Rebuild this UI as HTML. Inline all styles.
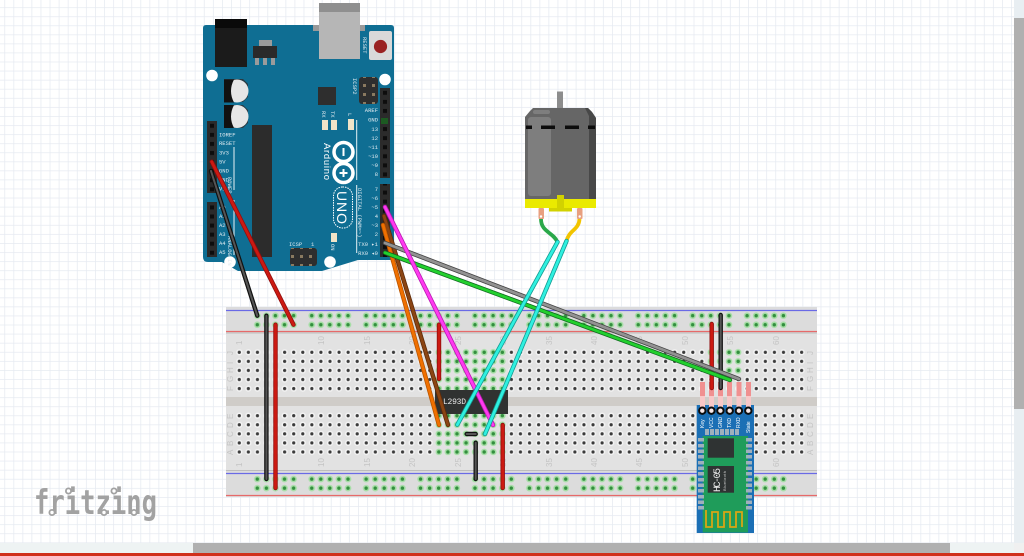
<!DOCTYPE html>
<html><head><meta charset="utf-8"><style>
html,body{margin:0;padding:0;background:#fff;overflow:hidden}
svg{display:block}
.m{font-family:"Liberation Mono",monospace;fill:#dfeaf0;font-size:5.5px}
.b{font-family:"Liberation Sans",sans-serif;fill:#c4c4c4;font-size:8px}
</style></head><body>
<svg width="1024" height="556" viewBox="0 0 1024 556" xmlns="http://www.w3.org/2000/svg">
<defs>
<pattern id="grid" x="4.3" y="7.2" width="9.07" height="9.07" patternUnits="userSpaceOnUse">
<rect width="9.07" height="9.07" fill="#fff"/>
<path d="M0 0H9.07M0 0V9.07" stroke="#e6eaf1" stroke-width="1.5" fill="none"/>
</pattern>
<pattern id="holes" x="234.8" y="347.8" width="9.07" height="9.07" patternUnits="userSpaceOnUse">
<circle cx="4.5" cy="4.5" r="3.1" fill="#f4f4f4"/><circle cx="4.5" cy="4.5" r="1.6" fill="#3a3a3a"/>
</pattern>
<pattern id="holes2" x="234.8" y="411.2" width="9.07" height="9.07" patternUnits="userSpaceOnUse">
<circle cx="4.5" cy="4.5" r="3.1" fill="#f4f4f4"/><circle cx="4.5" cy="4.5" r="1.6" fill="#3a3a3a"/>
</pattern>
<pattern id="gh" x="234.8" y="347.8" width="9.07" height="9.07" patternUnits="userSpaceOnUse">
<circle cx="4.5" cy="4.5" r="3.3" fill="#a6dea6"/><circle cx="4.5" cy="4.5" r="1.7" fill="#338f3e"/>
</pattern>
<pattern id="gh2" x="234.8" y="411.2" width="9.07" height="9.07" patternUnits="userSpaceOnUse">
<circle cx="4.5" cy="4.5" r="3.3" fill="#a6dea6"/><circle cx="4.5" cy="4.5" r="1.7" fill="#338f3e"/>
</pattern>
<pattern id="rail" x="252.8" y="311.2" width="54.42" height="9.07" patternUnits="userSpaceOnUse">
<g fill="#a6dea6"><circle cx="4.5" cy="4.5" r="3.3"/><circle cx="13.6" cy="4.5" r="3.3"/><circle cx="22.6" cy="4.5" r="3.3"/><circle cx="31.7" cy="4.5" r="3.3"/><circle cx="40.8" cy="4.5" r="3.3"/></g>
<g fill="#338f3e"><circle cx="4.5" cy="4.5" r="1.7"/><circle cx="13.6" cy="4.5" r="1.7"/><circle cx="22.6" cy="4.5" r="1.7"/><circle cx="31.7" cy="4.5" r="1.7"/><circle cx="40.8" cy="4.5" r="1.7"/></g>
</pattern>
<pattern id="rail2" x="252.8" y="474.6" width="54.42" height="9.07" patternUnits="userSpaceOnUse">
<g fill="#a6dea6"><circle cx="4.5" cy="4.5" r="3.3"/><circle cx="13.6" cy="4.5" r="3.3"/><circle cx="22.6" cy="4.5" r="3.3"/><circle cx="31.7" cy="4.5" r="3.3"/><circle cx="40.8" cy="4.5" r="3.3"/></g>
<g fill="#338f3e"><circle cx="4.5" cy="4.5" r="1.7"/><circle cx="13.6" cy="4.5" r="1.7"/><circle cx="22.6" cy="4.5" r="1.7"/><circle cx="31.7" cy="4.5" r="1.7"/><circle cx="40.8" cy="4.5" r="1.7"/></g>
</pattern>
<pattern id="hdr" x="207" y="121" width="10" height="9.07" patternUnits="userSpaceOnUse"><rect width="10" height="9.07" fill="#2b2b2b"/><rect x="3" y="2.8" width="4" height="4" fill="#0d0d0d"/></pattern>
<pattern id="hdr2" x="380" y="88" width="10" height="9.07" patternUnits="userSpaceOnUse"><rect width="10" height="9.07" fill="#2b2b2b"/><rect x="3" y="2.8" width="4" height="4" fill="#0d0d0d"/></pattern>
<pattern id="isp" x="0" y="0" width="9" height="9" patternUnits="userSpaceOnUse"><rect x="3" y="3" width="3" height="3" fill="#8a7a60"/></pattern>
</defs>
<rect width="1014" height="543" fill="url(#grid)"/>

<!-- breadboard -->
<rect x="226" y="307" width="591" height="190" fill="#dcdcdc"/>
<rect x="226" y="333" width="591" height="138" fill="#e2e2e2"/>
<rect x="226" y="397" width="591" height="9" fill="#cfccc8"/>
<path d="M226 333H817M226 470.5H817" stroke="#bdbdbd" stroke-width="1"/>
<path d="M226 310.5H817M226 473.5H817" stroke="#6a6ae6" stroke-width="1.2"/>
<path d="M226 331.5H817M226 495.5H817" stroke="#e66a6a" stroke-width="1.2"/>
<rect x="234.8" y="347.8" width="571.4" height="45.35" fill="url(#holes)"/>
<rect x="234.8" y="411.2" width="571.4" height="45.35" fill="url(#holes2)"/>
<rect x="252.8" y="311.2" width="535" height="18.14" fill="url(#rail)"/>
<rect x="252.8" y="474.6" width="535" height="18.14" fill="url(#rail2)"/>
<rect x="434.5" y="347.8" width="72.6" height="45.35" fill="url(#gh)"/>
<rect x="434.5" y="411.2" width="72.6" height="45.35" fill="url(#gh2)"/>
<rect x="707" y="347.8" width="36.3" height="27.2" fill="url(#gh)"/>
<g class="b">
<text transform="translate(242,345) rotate(-90)">1</text><text transform="translate(324,345) rotate(-90)">10</text><text transform="translate(370,345) rotate(-90)">15</text><text transform="translate(415,345) rotate(-90)">20</text><text transform="translate(461,345) rotate(-90)">25</text><text transform="translate(506,345) rotate(-90)">30</text><text transform="translate(552,345) rotate(-90)">35</text><text transform="translate(597,345) rotate(-90)">40</text><text transform="translate(642,345) rotate(-90)">45</text><text transform="translate(688,345) rotate(-90)">50</text><text transform="translate(733,345) rotate(-90)">55</text><text transform="translate(779,345) rotate(-90)">60</text>
<text transform="translate(242,467) rotate(-90)">1</text><text transform="translate(324,467) rotate(-90)">10</text><text transform="translate(370,467) rotate(-90)">15</text><text transform="translate(415,467) rotate(-90)">20</text><text transform="translate(461,467) rotate(-90)">25</text><text transform="translate(506,467) rotate(-90)">30</text><text transform="translate(552,467) rotate(-90)">35</text><text transform="translate(597,467) rotate(-90)">40</text><text transform="translate(642,467) rotate(-90)">45</text><text transform="translate(688,467) rotate(-90)">50</text><text transform="translate(779,467) rotate(-90)">60</text>
<text transform="translate(233,355) rotate(-90)">J</text><text transform="translate(233,364) rotate(-90)">I</text><text transform="translate(233,373) rotate(-90)">H</text><text transform="translate(233,382) rotate(-90)">G</text><text transform="translate(233,391) rotate(-90)">F</text>
<text transform="translate(233,419) rotate(-90)">E</text><text transform="translate(233,428) rotate(-90)">D</text><text transform="translate(233,437) rotate(-90)">C</text><text transform="translate(233,446) rotate(-90)">B</text><text transform="translate(233,455) rotate(-90)">A</text>
<text transform="translate(813,355) rotate(-90)">J</text><text transform="translate(813,364) rotate(-90)">I</text><text transform="translate(813,373) rotate(-90)">H</text><text transform="translate(813,382) rotate(-90)">G</text><text transform="translate(813,391) rotate(-90)">F</text>
<text transform="translate(813,419) rotate(-90)">E</text><text transform="translate(813,428) rotate(-90)">D</text><text transform="translate(813,437) rotate(-90)">C</text><text transform="translate(813,446) rotate(-90)">B</text><text transform="translate(813,455) rotate(-90)">A</text>
</g>

<!-- L293D -->
<rect x="435" y="390" width="73" height="24" fill="#303231"/>
<text x="443" y="404" font-family="'Liberation Mono',monospace" font-size="8" fill="#e8e8e8" textLength="23">L293D</text>

<!-- Arduino -->
<path d="M206 25H391Q394 25 394 28V256Q394 260 390 260H358L322 271H238L222 262H208Q203 262 203 257V28Q203 25 206 25Z" fill="#0f6e93"/>
<rect x="313" y="25" width="52" height="6" fill="#9a9a9a"/>
<rect x="319" y="3" width="41" height="56" fill="#b6b6b6"/><rect x="319" y="3" width="41" height="9" fill="#8f8f8f"/>
<rect x="215" y="19" width="32" height="48" fill="#1b1b1b"/><rect x="215" y="19" width="32" height="9" fill="#0a0a0a"/>
<rect x="259" y="40" width="13" height="7" fill="#9b9b9b"/>
<rect x="255" y="57" width="4" height="8" fill="#9b9b9b"/><rect x="263" y="57" width="4" height="8" fill="#9b9b9b"/><rect x="271" y="57" width="4" height="8" fill="#9b9b9b"/>
<rect x="253" y="46" width="24" height="12" fill="#2a2a2a"/>
<rect x="369" y="31" width="23" height="29" rx="2" fill="#d9d9d9"/>
<circle cx="380.5" cy="46.5" r="6.6" fill="#9a2222"/>
<text class="m" transform="translate(363,37) rotate(90)">RESET</text>
<circle cx="212" cy="75.5" r="5.8" fill="#fff"/><circle cx="385" cy="79.5" r="5.8" fill="#fff"/>
<circle cx="230" cy="262" r="5.8" fill="#fff"/><circle cx="330" cy="262" r="5.8" fill="#fff"/>
<path d="M224 79H243L248 84V97L243 102H224Z" fill="#2a3a42"/><circle cx="237" cy="91" r="11.5" fill="#e6e6e6"/><path d="M234 79.5Q228 91 234 102.5H224V79.5Z" fill="#111"/>
<path d="M224 105H243L248 110V123L243 128H224Z" fill="#2a3a42"/><circle cx="237" cy="116.5" r="11.5" fill="#e6e6e6"/><path d="M234 105Q228 116.5 234 128H224V105Z" fill="#111"/>
<rect x="318" y="87" width="18" height="18" fill="#2e2e2e"/>
<rect x="252" y="125" width="20" height="132" fill="#2c2c2c"/>
<rect x="207" y="121" width="10" height="72" fill="url(#hdr)"/>
<rect x="207" y="202" width="10" height="55" fill="url(#hdr)"/>
<rect x="380" y="88" width="10" height="90" fill="url(#hdr2)"/>
<rect x="380" y="184" width="10" height="73" fill="url(#hdr2)"/>
<rect x="359" y="77" width="19" height="27" rx="3" fill="#2e2e2e"/><rect x="359" y="77" width="18" height="27" fill="url(#isp)"/>
<rect x="290" y="248" width="27" height="18" rx="3" fill="#2e2e2e"/><rect x="290" y="248" width="27" height="18" fill="url(#isp)"/>
<rect x="322" y="120" width="6" height="10" fill="#f0e4c8"/><rect x="331" y="120" width="6" height="10" fill="#f0e4c8"/><rect x="348" y="119" width="6" height="11" fill="#f0e4c8"/><rect x="331" y="233" width="6" height="9" fill="#f0e4c8"/>
<path d="M356.7 120V180M356.7 185V253M234 147V190M234 200V255" stroke="#e8f2f6" stroke-width="1" fill="none"/>
<g class="m">
<text x="219" y="136.5">IOREF</text><text x="219" y="145">RESET</text><text x="219" y="154.5">3V3</text><text x="219" y="163.5">5V</text><text x="219" y="172.5">GND</text><text x="219" y="181.5">GND</text><text x="219" y="190.5">VIN</text>
<text x="219" y="209">A0</text><text x="219" y="218">A1</text><text x="219" y="227">A2</text><text x="219" y="236">A3</text><text x="219" y="245">A4</text><text x="219" y="254">A5</text>
<g text-anchor="end"><text x="378" y="112">AREF</text><text x="378" y="121.5">GND</text><text x="378" y="131">13</text><text x="378" y="140">12</text><text x="378" y="149">~11</text><text x="378" y="158">~10</text><text x="378" y="167">~9</text><text x="378" y="176">8</text>
<text x="378" y="191">7</text><text x="378" y="200">~6</text><text x="378" y="209">~5</text><text x="378" y="218">4</text><text x="378" y="227">~3</text><text x="378" y="236">2</text><text x="378" y="246">TX0 ▸1</text><text x="378" y="255">RX0 ◂0</text></g>
<text transform="translate(228,177) rotate(90)">POWER</text><text transform="translate(228,236) rotate(90)">ANALOG IN</text>
<text transform="translate(358,188) rotate(90)">DIGITAL (PWM=~)</text>
<text transform="translate(353,78) rotate(90)">ICSP2</text><text x="289" y="246">ICSP</text><text x="311" y="246">1</text>
<text transform="translate(322,111) rotate(90)">RX</text><text transform="translate(331,111) rotate(90)">TX</text><text transform="translate(348,113) rotate(90)">L</text><text transform="translate(331,244) rotate(90)">ON</text>
</g>
<g fill="none" stroke="#fff" stroke-width="3.5"><circle cx="343.5" cy="152" r="9.5"/><circle cx="343.5" cy="173" r="9.5"/></g>
<path d="M343.5 148V156M343.5 169V177M339.5 173H347.5" stroke="#fff" stroke-width="2"/>
<text transform="translate(324,143) rotate(90)" font-family="'Liberation Sans',sans-serif" font-size="9.5" fill="#fff" textLength="37">Arduino</text>
<rect x="333.5" y="187" width="19" height="41" rx="9" fill="none" stroke="#fff" stroke-width="1" stroke-dasharray="1.5 1"/>
<text transform="translate(337,191) rotate(90)" font-family="'Liberation Sans',sans-serif" font-size="14" fill="#fff" textLength="33">UNO</text>
<rect x="381" y="118" width="7" height="6" fill="#1c5a22"/>

<!-- motor -->
<rect x="557" y="91.5" width="6" height="17" fill="#8d8d8d"/>
<path d="M533 108H588L592 112L596 118V199H525V117L530 111Z" fill="#666"/>
<path d="M585 108H588L592 112L596 118V199H589V116Z" fill="#484848"/>
<rect x="528" y="117" width="23" height="79" rx="3" fill="#7e7e7e"/>
<rect x="533" y="110" width="17" height="4" rx="2" fill="#7e7e7e"/>
<path d="M526 127.3H532M541 127.3H555M565 127.3H579M588 127.3H595" stroke="#0c0c0c" stroke-width="3.5"/>
<rect x="525" y="199" width="71" height="9" fill="#eaea00"/>
<rect x="549" y="208" width="23" height="3.5" fill="#d2d200"/>
<rect x="557" y="195" width="7" height="13" fill="#d2d200"/>
<rect x="538.5" y="208" width="5.5" height="11" rx="1" fill="#e8a080"/><circle cx="541" cy="216.5" r="1.2" fill="#fff"/>
<rect x="577" y="208" width="5.5" height="11" rx="1" fill="#e8a080"/><circle cx="579.7" cy="216.5" r="1.2" fill="#fff"/>
<path d="M541 219C541 232 553 232 557.5 242" fill="none" stroke="#2aa84a" stroke-width="3.8"/>
<path d="M579.5 219C579 230 569 230 566.5 241" fill="none" stroke="#f2c400" stroke-width="3.8"/>

<!-- HC-05 -->
<rect x="696.7" y="405" width="57.3" height="128" fill="#1b6fb5"/>
<rect x="702.7" y="436" width="45.3" height="96.5" fill="#1f9c5a"/>
<g fill="#9fb0bc">
<rect x="705" y="429" width="4" height="6"/><rect x="710" y="429" width="4" height="6"/><rect x="715" y="429" width="4" height="6"/><rect x="720" y="429" width="4" height="6"/><rect x="725" y="429" width="4" height="6"/><rect x="730" y="429" width="4" height="6"/><rect x="735" y="429" width="4" height="6"/>
<rect x="698" y="438" width="6" height="3.5"/><rect x="698" y="444" width="6" height="3.5"/><rect x="698" y="449.5" width="6" height="3.5"/><rect x="698" y="455" width="6" height="3.5"/><rect x="698" y="461" width="6" height="3.5"/><rect x="698" y="466.5" width="6" height="3.5"/><rect x="698" y="472" width="6" height="3.5"/><rect x="698" y="478" width="6" height="3.5"/><rect x="698" y="483.5" width="6" height="3.5"/><rect x="698" y="489" width="6" height="3.5"/><rect x="698" y="495" width="6" height="3.5"/><rect x="698" y="500.5" width="6" height="3.5"/><rect x="698" y="506" width="6" height="3.5"/>
<rect x="746" y="438" width="6" height="3.5"/><rect x="746" y="444" width="6" height="3.5"/><rect x="746" y="449.5" width="6" height="3.5"/><rect x="746" y="455" width="6" height="3.5"/><rect x="746" y="461" width="6" height="3.5"/><rect x="746" y="466.5" width="6" height="3.5"/><rect x="746" y="472" width="6" height="3.5"/><rect x="746" y="478" width="6" height="3.5"/><rect x="746" y="483.5" width="6" height="3.5"/><rect x="746" y="489" width="6" height="3.5"/><rect x="746" y="495" width="6" height="3.5"/><rect x="746" y="500.5" width="6" height="3.5"/><rect x="746" y="506" width="6" height="3.5"/>
</g>
<rect x="707.7" y="438.3" width="26.3" height="19.4" fill="#2f3333"/>
<rect x="707.7" y="466" width="26.3" height="26.7" fill="#2f3333"/>
<text transform="translate(720,492) rotate(-90)" font-family="'Liberation Mono',monospace" font-size="10" fill="#e8e8e8" textLength="24">HC-05</text>
<text transform="translate(726,491) rotate(-90)" font-family="'Liberation Sans',sans-serif" font-size="4" fill="#ccc" textLength="20">Bluetooth</text>
<path d="M706 510V527H712V512H718V527H724V512H730V527H736V512H742V527" fill="none" stroke="#d9a514" stroke-width="1.8"/>
<g fill="#f8c8c8"><rect x="700" y="396" width="5" height="14"/><rect x="709" y="396" width="5" height="14"/><rect x="718" y="396" width="5" height="14"/><rect x="727" y="396" width="5" height="14"/><rect x="736.5" y="396" width="5" height="14"/><rect x="746" y="396" width="5" height="14"/></g>
<g fill="#f09090"><rect x="700" y="382" width="5" height="14"/><rect x="709" y="382" width="5" height="14"/><rect x="718" y="382" width="5" height="14"/><rect x="727" y="382" width="5" height="14"/><rect x="736.5" y="382" width="5" height="14"/><rect x="746" y="382" width="5" height="14"/></g>
<g fill="#f8e8e8" stroke="#0c0c0c" stroke-width="2"><circle cx="702.3" cy="410.7" r="3.2"/><circle cx="711.4" cy="410.7" r="3.2"/><circle cx="720.4" cy="410.7" r="3.2"/><circle cx="729.7" cy="410.7" r="3.2"/><circle cx="738.9" cy="410.7" r="3.2"/><circle cx="748.3" cy="410.7" r="3.2"/></g>
<g font-family="'Liberation Sans',sans-serif" font-size="5" fill="#fff">
<text transform="translate(704,428) rotate(-90)">Key</text><text transform="translate(713,428) rotate(-90)">VCC</text><text transform="translate(722,428) rotate(-90)">GND</text><text transform="translate(731,428) rotate(-90)">TXD</text><text transform="translate(740,428) rotate(-90)">RXD</text><text transform="translate(750,433) rotate(-90)">State</text>
</g>

<!-- wires -->
<g fill="none" stroke-linecap="round">
<g stroke="#8f0d0d" stroke-width="4.4"><path d="M439 324.7V379M502.7 425V488M711.7 324V388M211.7 161.7L293.5 324.7M275.5 324.7V488"/></g>
<g stroke="#cc1a12" stroke-width="2.8"><path d="M439 324.7V379M502.7 425V488M711.7 324V388M211.7 161.7L293.5 324.7M275.5 324.7V488"/></g>
<g stroke="#111" stroke-width="4.4"><path d="M211 171L257.3 315.7M266.4 315.7V479M475.7 442.7V479M466.7 434H475.7M720.7 315V388"/></g>
<g stroke="#555" stroke-width="2"><path d="M211 171L257.3 315.7M266.4 315.7V479M475.7 442.7V479M466.7 434H475.7M720.7 315V388"/></g>
<path d="M384 216L448 425" stroke="#5e2a08" stroke-width="4.4"/><path d="M384 216L448 425" stroke="#8b4513" stroke-width="2.8"/>
<path d="M383 225L439 425" stroke="#b85400" stroke-width="4.4"/><path d="M383 225L439 425" stroke="#f07000" stroke-width="2.8"/>
<path d="M385 243L739 379" stroke="#444" stroke-width="4.4"/><path d="M385 243L739 379" stroke="#929292" stroke-width="2.8"/>
<path d="M385 252.7L730 380" stroke="#116a20" stroke-width="4.4"/><path d="M385 252.7L730 380" stroke="#22d02e" stroke-width="2.8"/>
<path d="M385 207L493 425" stroke="#b81ab0" stroke-width="4.4"/><path d="M385 207L493 425" stroke="#ff3af0" stroke-width="2.8"/>
<path d="M457.3 424.7L557.5 242" stroke="#129a92" stroke-width="4.4"/><path d="M457.3 424.7L557.5 242" stroke="#2ff0e0" stroke-width="2.8"/>
<path d="M485 434L566.5 241" stroke="#129a92" stroke-width="4.4"/><path d="M485 434L566.5 241" stroke="#2ff0e0" stroke-width="2.8"/>
</g>

<!-- logo -->
<text x="34" y="514" font-family="'DejaVu Sans Mono',monospace" font-weight="bold" font-size="34" fill="#a2a2a2" textLength="123" lengthAdjust="spacingAndGlyphs">fritzing</text>
<g fill="#fff" stroke="#a2a2a2" stroke-width="1.8"><circle cx="68.5" cy="491" r="2.6"/><circle cx="114" cy="491" r="2.6"/><circle cx="52" cy="512.5" r="2.6"/><circle cx="104" cy="512.5" r="2.6"/><circle cx="134" cy="512.5" r="2.6"/></g>

<!-- scrollbars -->
<rect x="1014" y="0" width="10" height="543" fill="#e8eef2"/>
<rect x="1014" y="18" width="10" height="391" fill="#b0b0b0"/>
<rect x="0" y="543" width="1014" height="10" fill="#eef3f3"/>
<rect x="193" y="543" width="757" height="10" fill="#b0b0b0"/>
<rect x="1014" y="543" width="10" height="10" fill="#f0f0f0"/>
<rect x="0" y="553" width="1024" height="3" fill="#d0301c"/>
</svg>
</body></html>
